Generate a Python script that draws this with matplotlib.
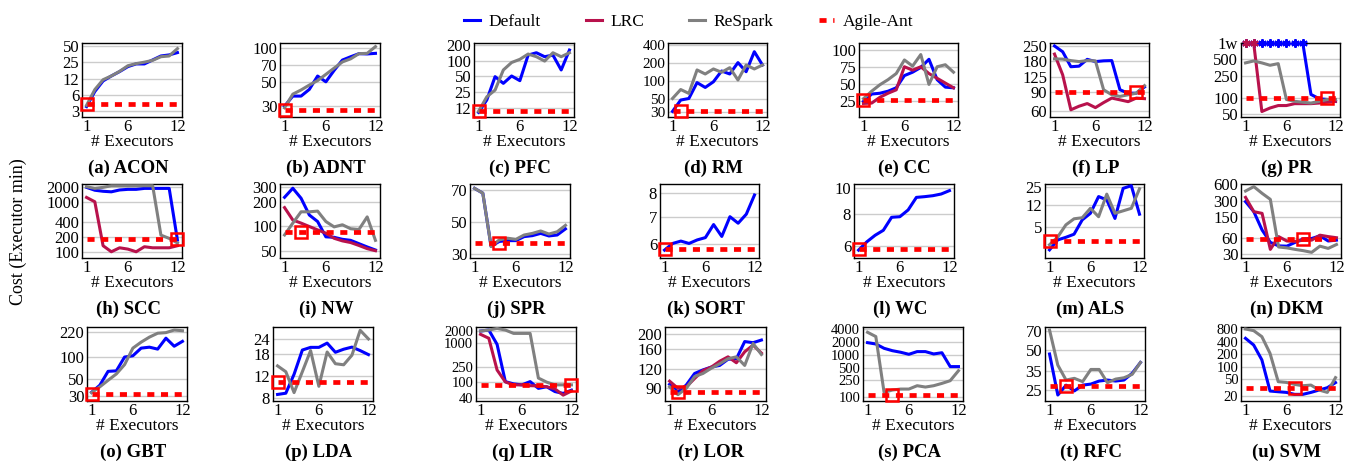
import matplotlib.pyplot as plt
from matplotlib.lines import Line2D
from matplotlib.ticker import NullLocator

plt.rcParams['font.family'] = ['Liberation Serif', 'DejaVu Serif']

executors = list(range(1, 13))
xticks = [1, 6, 12]

# cost values (executor min) per workload
acon_default = [3.6, 6.9, 10.9, 13.5, 16.3, 20.2, 22.7, 22.7, 27, 32, 33.5, 37]
acon_respark = [3.8, 7.5, 11.5, 13.5, 16.5, 21, 23, 24.5, 26.5, 31, 32, 44]
adnt_default = [30, 37, 37, 42.5, 56, 49.7, 63, 78, 83.5, 89, 88.5, 89.6]
adnt_respark = [29, 38.5, 42, 46.5, 51, 58, 66, 75, 80, 89, 89.6, 103]
pfc_default = [10, 17.4, 49, 36.4, 50.5, 41, 128, 142, 119, 128, 66, 160]
pfc_respark = [10.5, 20, 27, 66, 92, 106, 134, 119, 98, 142, 119, 142]
rm_default = [31, 48, 51, 94, 78, 97, 147, 131, 203, 143, 309, 185]
rm_respark = [51, 72, 62, 153, 131, 159, 140, 167, 104, 185, 159, 185]
cc_default = [25, 35.8, 37, 40, 45, 63, 68, 75, 87, 57, 46, 45]
cc_lrc = [22, 22.5, 31, 37, 42, 76, 71, 76, 66, 59, 52, 45]
cc_respark = [29, 40, 49.5, 57, 66, 86, 77, 94, 50, 76, 79, 68]
lp_default = [250, 220, 158, 160, 186, 177, 180, 181, 95, 88, 88, 101]
lp_lrc = [209, 132, 61, 66, 70, 64, 71.5, 79, 76, 73, 79, 78]
lp_respark = [188, 187, 181, 177, 181, 180, 95, 85, 82, 85, 88, 104]
pr_default = [1000, 1000, 1000, 1000, 1000, 1000, 1000, 1000, 115, 96, 93, 86]
pr_lrc = [1000, 1000, 56, 65, 72, 72, 78, 78, 78, 80, 83, 86]
pr_respark = [433, 470, 433, 392, 420, 93, 86, 83, 80, 86, 93, 93]

scc_default = [1940, 1700, 1620, 1580, 1720, 1770, 1770, 1850, 1850, 1850, 1850, 171]
scc_lrc = [1220, 1000, 132, 100, 120, 113, 100, 126, 120, 120, 120, 132]
scc_respark = [2000, 1850, 1940, 2090, 2090, 2090, 2090, 2090, 2090, 215, 185, 150]
nw_default = [226, 292, 220, 137, 114, 74, 73, 69, 67, 61, 55.6, 51]
nw_lrc = [169, 119, 109, 99, 90, 82, 71, 66, 63, 58, 53, 50]
nw_respark = [78, 109, 150, 150, 153, 114, 98, 104, 93, 91, 130, 67]
spr_default = [71, 68, 35, 38, 38.5, 38.5, 41, 41.6, 43, 41.4, 42, 45.8]
spr_respark = [71, 68, 34.8, 39, 40, 39.3, 42, 43, 44.5, 42.6, 44, 48]
sort_default = [5.81, 6.03, 6.11, 6.03, 6.15, 6.23, 6.7, 6.27, 7.0, 6.75, 7.1, 7.9]
wc_default = [5.79, 6.23, 6.6, 6.9, 7.74, 7.78, 8.26, 9.23, 9.29, 9.37, 9.51, 9.8]
als_default = [2.04, 3.03, 3.36, 3.8, 6.7, 8.7, 16.9, 14.8, 7.1, 23.4, 26, 8.4]
als_respark = [2.5, 3.4, 5.5, 7.0, 7.3, 10.6, 7.6, 18.6, 8.7, 9.6, 10.6, 23]
dkm_default = [286, 186, 85, 50, 43, 42.5, 50, 58, 59, 66, 53, 55]
dkm_lrc = [343, 186, 173, 37, 64, 53, 52, 55, 55, 68, 64, 61]
dkm_respark = [450, 543, 408, 315, 41, 39.5, 37, 35, 32.6, 42.5, 38.6, 45.6]

gbt_default = [33.3, 41.5, 64, 65, 100, 104, 132, 136, 128, 180, 140, 163]
gbt_respark = [33, 39.5, 48.4, 59, 79, 132, 159, 186, 210, 214, 232, 227]
lda_default = [8.5, 8.7, 12.4, 19.5, 20.5, 20.5, 22.2, 18.7, 19.8, 20.6, 19.3, 17.9]
lda_respark = [14.5, 13, 8.8, 13, 19.3, 9.9, 18.8, 15.1, 14.8, 17.7, 28.2, 24]
lir_default = [1960, 2080, 908, 105, 92, 87, 105, 71, 78, 59, 53, 64]
lir_lrc = [1620, 1290, 206, 103, 87, 87, 83, 82, 78, 69, 48, 61]
lir_respark = [1960, 2080, 2280, 2080, 1710, 1710, 1710, 129, 102, 87, 87, 87]
lor_default = [95.4, 85, 94.5, 112, 118, 123, 126, 138, 139, 179, 176, 183]
lor_lrc = [100, 90, 92, 104, 117, 123, 134, 143, 131, 154, 170, 151]
lor_respark = [92, 82, 90, 107, 112, 121, 129, 139, 143, 126, 174, 148]
pca_default = [1914, 1780, 1410, 1240, 1140, 1020, 1180, 1180, 1040, 1110, 525, 525]
pca_respark = [3350, 2660, 131, 148, 156, 156, 187, 174, 187, 212, 245, 420]
rfc_default = [46.7, 22.9, 27.2, 24.6, 27.2, 27.7, 29.2, 29.7, 29.2, 29.7, 33.4, 40.3]
rfc_respark = [70.8, 38.5, 29.7, 30.6, 28.9, 35.7, 35.7, 28.4, 30.2, 30.9, 32.8, 40.3]
svm_default = [479, 331, 146, 26.3, 25.3, 24.4, 21.9, 21.9, 24.4, 27.8, 31.6, 41.8]
svm_respark = [800, 730, 525, 209, 44, 42.3, 37.9, 35.2, 36.5, 27.8, 24.4, 55]

# Agile-Ant cost and the executor count it picked
agile_cost = [4.05, 27.8, 10.6, 31.5, 26.5, 90, 100,
              179, 85.5, 36.8, 5.84, 5.83, 2.9, 57.7,
              31.3, 10.8, 86.3, 85.6, 113, 26.8, 31.6]
agile_pick = [1, 1, 1, 2, 1, 11, 11,
              12, 3, 4, 1, 1, 1, 8,
              1, 1, 12, 2, 4, 3, 7]

FAIL = 1000  # runs that never finished, drawn at the "1w" tick

panels = [
    ('(a) ACON', 'log', [3, 6, 12, 25, 50], None, (2.3, 56), acon_default, None, acon_respark),
    ('(b) ADNT', 'log', [30, 50, 70, 100], None, (24, 111), adnt_default, None, adnt_respark),
    ('(c) PFC', 'log', [12, 25, 50, 100, 200], None, (8.15, 219), pfc_default, None, pfc_respark),
    ('(d) RM', 'log', [30, 50, 100, 200, 400], None, (25, 432), rm_default, None, rm_respark),
    ('(e) CC', 'linear', [25, 50, 75, 100], None, (2, 111), cc_default, cc_lrc, cc_respark),
    ('(f) LP', 'log', [60, 90, 125, 180, 250], None, (52, 267), lp_default, lp_lrc, lp_respark),
    ('(g) PR', 'log', [50, 100, 250, 500, 1000], ['50', '100', '250', '500', '1w'], (44.5, 1000),
     pr_default, pr_lrc, pr_respark),
    ('(h) SCC', 'log', [100, 200, 400, 1000, 2000], None, (75, 2265), scc_default, scc_lrc, scc_respark),
    ('(i) NW', 'log', [50, 100, 200, 300], None, (40.7, 329), nw_default, nw_lrc, nw_respark),
    ('(j) SPR', 'linear', [30, 50, 70], None, (27.7, 73.7), spr_default, None, spr_respark),
    ('(k) SORT', 'log', [6, 7, 8], None, (5.56, 8.4), sort_default, None, None),
    ('(l) WC', 'log', [6, 8, 10], None, (5.4, 10.39), wc_default, None, None),
    ('(m) ALS', 'log', [5, 12, 25], None, (1.48, 27.8), als_default, None, als_respark),
    ('(n) DKM', 'log', [30, 60, 150, 300, 600], None, (25.6, 608), dkm_default, dkm_lrc, dkm_respark),
    ('(o) GBT', 'log', [30, 50, 100, 220], None, (25.4, 255), gbt_default, None, gbt_respark),
    ('(p) LDA', 'log', [8, 12, 18, 24], None, (7.52, 30), lda_default, None, lda_respark),
    ('(q) LIR', 'log', [40, 100, 250, 1000, 2000], None, (34.2, 2477), lir_default, lir_lrc, lir_respark),
    ('(r) LOR', 'log', [90, 120, 160, 200], None, (74.7, 221.7), lor_default, lor_lrc, lor_respark),
    ('(s) PCA', 'log', [100, 250, 500, 1000, 2000, 4000], None, (81.9, 4457), pca_default, None, pca_respark),
    ('(t) RFC', 'log', [25, 35, 50, 70], None, (20.65, 74.6), rfc_default, None, rfc_respark),
    ('(u) SVM', 'log', [20, 50, 100, 200, 400, 800], None, (15.2, 893), svm_default, None, svm_respark),
]

# axes boxes in pixels: left, right, top, bottom
W, H = 1346, 463
row_tb = [(43, 117), (184, 258), (327, 401)]
cols_lr = [
    [(82, 182), (280, 380), (474, 574), (668, 767), (859, 958), (1050, 1149), (1241, 1340)],
    [(82, 182), (280, 380), (470, 570), (660, 759), (854, 954), (1045, 1144), (1241, 1341)],
    [(87, 187), (273, 373), (476, 576), (665, 766), (863, 963), (1045, 1145), (1241, 1340)],
]

C_DEF = '#0000ff'
C_LRC = '#b8124c'
C_RES = '#808080'
C_AGI = '#ff0000'
LW = 2.2

# dense log axes need a touch smaller labels so they don't collide
small_ticks = {'(d) RM': 11, '(q) LIR': 10.5, '(s) PCA': 10.5, '(u) SVM': 10.5}

fig = plt.figure(figsize=(W / 100, H / 100), dpi=100)

for i, (title, scale, yt, ylab, ylim, d_def, d_lrc, d_res) in enumerate(panels):
    r, c = divmod(i, 7)
    l, rr = cols_lr[r][c]
    t, b = row_tb[r]
    ax = fig.add_axes([l / W, 1 - b / H, (rr - l) / W, (b - t) / H])

    ax.plot(executors, d_def, color=C_DEF, lw=LW, zorder=3)
    if d_lrc is not None:
        ax.plot(executors, d_lrc, color=C_LRC, lw=LW, zorder=3)
    if d_res is not None:
        ax.plot(executors, d_res, color=C_RES, lw=LW, zorder=3)
    if title == '(g) PR':
        for d, col in [(d_def, C_DEF), (d_lrc, C_LRC)]:
            xs = [x for x, v in zip(executors, d) if v == FAIL]
            ys = [v for v in d if v == FAIL]
            ax.plot(xs, ys, ls='none', marker=(6, 2, 0), ms=6, mew=1.5,
                    color=col, clip_on=False, zorder=4)
    ax.plot(executors, [agile_cost[i]] * len(executors), color=C_AGI, lw=3.4,
            ls=(0, (1.5, 1.4)), zorder=5)
    ax.plot([agile_pick[i]], [agile_cost[i]], ls='none', marker='s', ms=8,
            mfc='none', mec=C_AGI, mew=1.8, clip_on=False, zorder=6)

    ax.set_yscale(scale)
    ax.set_ylim(*ylim)
    ax.set_xlim(0.45, 12.55)
    ax.set_yticks(yt, ylab if ylab else [str(v) for v in yt])
    ax.yaxis.set_minor_locator(NullLocator())
    ax.set_xticks(xticks, [str(v) for v in xticks])
    ax.yaxis.grid(True, color='#cccccc', lw=1.0)
    ax.set_axisbelow(True)
    ax.tick_params(axis='y', labelsize=small_ticks.get(title, 12), length=0, pad=2)
    ax.tick_params(axis='x', labelsize=12, length=0, pad=1.5)
    for s in ax.spines.values():
        s.set_linewidth(1.0)
    ax.set_xlabel('# Executors', fontsize=12.5, labelpad=-1)
    fig.text((l + rr) / 2 / W - 4 / W, 1 - (b + 51) / H, title, fontsize=13.5,
             fontweight='bold', ha='center', va='center')

handles = [
    Line2D([], [], color=C_DEF, lw=LW),
    Line2D([], [], color=C_LRC, lw=LW),
    Line2D([], [], color=C_RES, lw=LW),
    Line2D([], [], color=C_AGI, lw=3.4, ls=(0, (1.5, 1.4))),
]
fig.legend(handles, ['Default', 'LRC', 'ReSpark', 'Agile-Ant'], loc='center',
           bbox_to_anchor=(689 / W, 1 - 22 / H), ncol=4, frameon=False,
           fontsize=12.5, handlelength=0.9, handletextpad=0.5, columnspacing=2.6)

fig.text(18 / W, 1 - 232 / H, 'Cost (Executor min)', rotation=90,
         ha='center', va='center', fontsize=13)

fig.savefig('out.png', dpi=100)
